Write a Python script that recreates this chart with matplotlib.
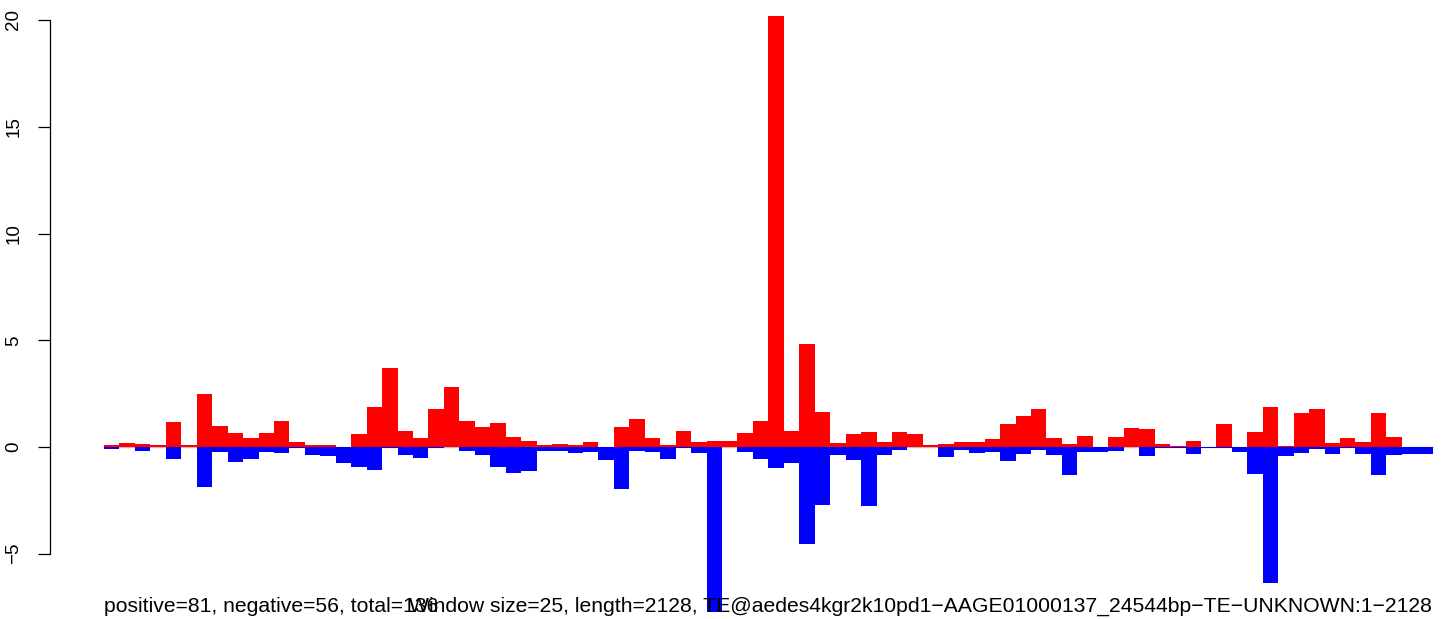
import numpy as np
import matplotlib
matplotlib.use("Agg")
import matplotlib.pyplot as plt

# per-window signal, 86 windows of 25 bp
positive = [0.08, 0.17, 0.12, 0.08, 1.15, 0.08, 2.47, 0.97, 0.64, 0.41,
            0.64, 1.20, 0.22, 0.08, 0.08, 0.00, 0.59, 1.86, 3.70, 0.73,
            0.41, 1.76, 2.80, 1.20, 0.92, 1.11, 0.45, 0.27, 0.08, 0.12,
            0.08, 0.22, 0.00, 0.92, 1.30, 0.41, 0.08, 0.73, 0.22, 0.27,
            0.27, 0.64, 1.20, 20.20, 0.75, 4.82, 1.64, 0.19, 0.61, 0.70,
            0.23, 0.70, 0.61, 0.09, 0.14, 0.23, 0.23, 0.37, 1.08, 1.45,
            1.78, 0.42, 0.14, 0.52, 0.00, 0.48, 0.91, 0.86, 0.16, 0.06,
            0.30, 0.00, 1.09, 0.00, 0.72, 1.89, 0.06, 1.61, 1.80, 0.20,
            0.44, 0.25, 1.61, 0.48, 0.00, 0.00]
negative = [-0.11, -0.02, -0.20, 0.00, -0.58, 0.00, -1.89, -0.25, -0.72, -0.58,
            -0.25, -0.30, -0.05, -0.39, -0.44, -0.77, -0.95, -1.09, -0.05, -0.39,
            -0.53, -0.04, 0.00, -0.20, -0.39, -0.95, -1.23, -1.14, -0.20, -0.20,
            -0.30, -0.25, -0.62, -1.98, -0.20, -0.25, -0.58, -0.05, -0.30, -7.73,
            0.00, -0.25, -0.55, -0.97, -0.73, -4.53, -2.70, -0.36, -0.59, -2.75,
            -0.36, -0.12, 0.00, 0.00, -0.45, -0.12, -0.27, -0.22, -0.64, -0.31,
            -0.12, -0.36, -1.30, -0.22, -0.25, -0.20, -0.02, -0.44, -0.06, -0.06,
            -0.34, -0.06, -0.05, -0.25, -1.28, -6.39, -0.44, -0.30, -0.10, -0.34,
            -0.04, -0.34, -1.33, -0.38, -0.34, -0.34]
yticks = [-5, 0, 5, 10, 15, 20]

left_text = "positive=81, negative=56, total=136"
right_text = ("Window size=25, length=2128, "
              "TE@aedes4kgr2k10pd1\u2212AAGE01000137_24544bp\u2212TE\u2212UNKNOWN:1\u22122128")

plt.rcParams['font.family'] = ['Liberation Sans', 'DejaVu Sans']

W, H = 1444, 619
fig = plt.figure(figsize=(W / 100, H / 100), dpi=100)
ax = fig.add_axes([50 / W, 0, 1 - 50 / W, 1])

bw = 15.45  # px per bar
x = np.arange(len(positive))
ax.hlines(0, -0.05, len(positive), color='#bebebe', lw=1, zorder=1)
ax.bar(x, positive, width=1, align='edge', color='red', linewidth=0, zorder=2)
ax.bar(x, negative, width=1, align='edge', color='blue', linewidth=0, zorder=3)

ax.set_xlim(-(104 - 50) / bw, (W - 104) / bw)
ax.set_ylim((447 - H) / 21.35, 447 / 21.35)

for s in ['top', 'right', 'bottom']:
    ax.spines[s].set_visible(False)
ax.spines['left'].set_bounds(-5, 20)
ax.spines['left'].set_linewidth(0.9)
ax.set_xticks([])
ax.set_yticks(yticks)
ax.set_yticklabels(['\u22125', '0', '5', '10', '15', '20'])
ax.tick_params(axis='y', length=9, width=0.9, labelsize=13.5, pad=11)
for lab in ax.get_yticklabels():
    lab.set_rotation(90)
    lab.set_va('center')

fig.text(104 / W, 1 - 612 / H, left_text, ha='left', va='baseline', fontsize=15.2)
fig.text(1432 / W, 1 - 612 / H, right_text, ha='right', va='baseline', fontsize=15.2)

fig.savefig("out.png", dpi=100)
